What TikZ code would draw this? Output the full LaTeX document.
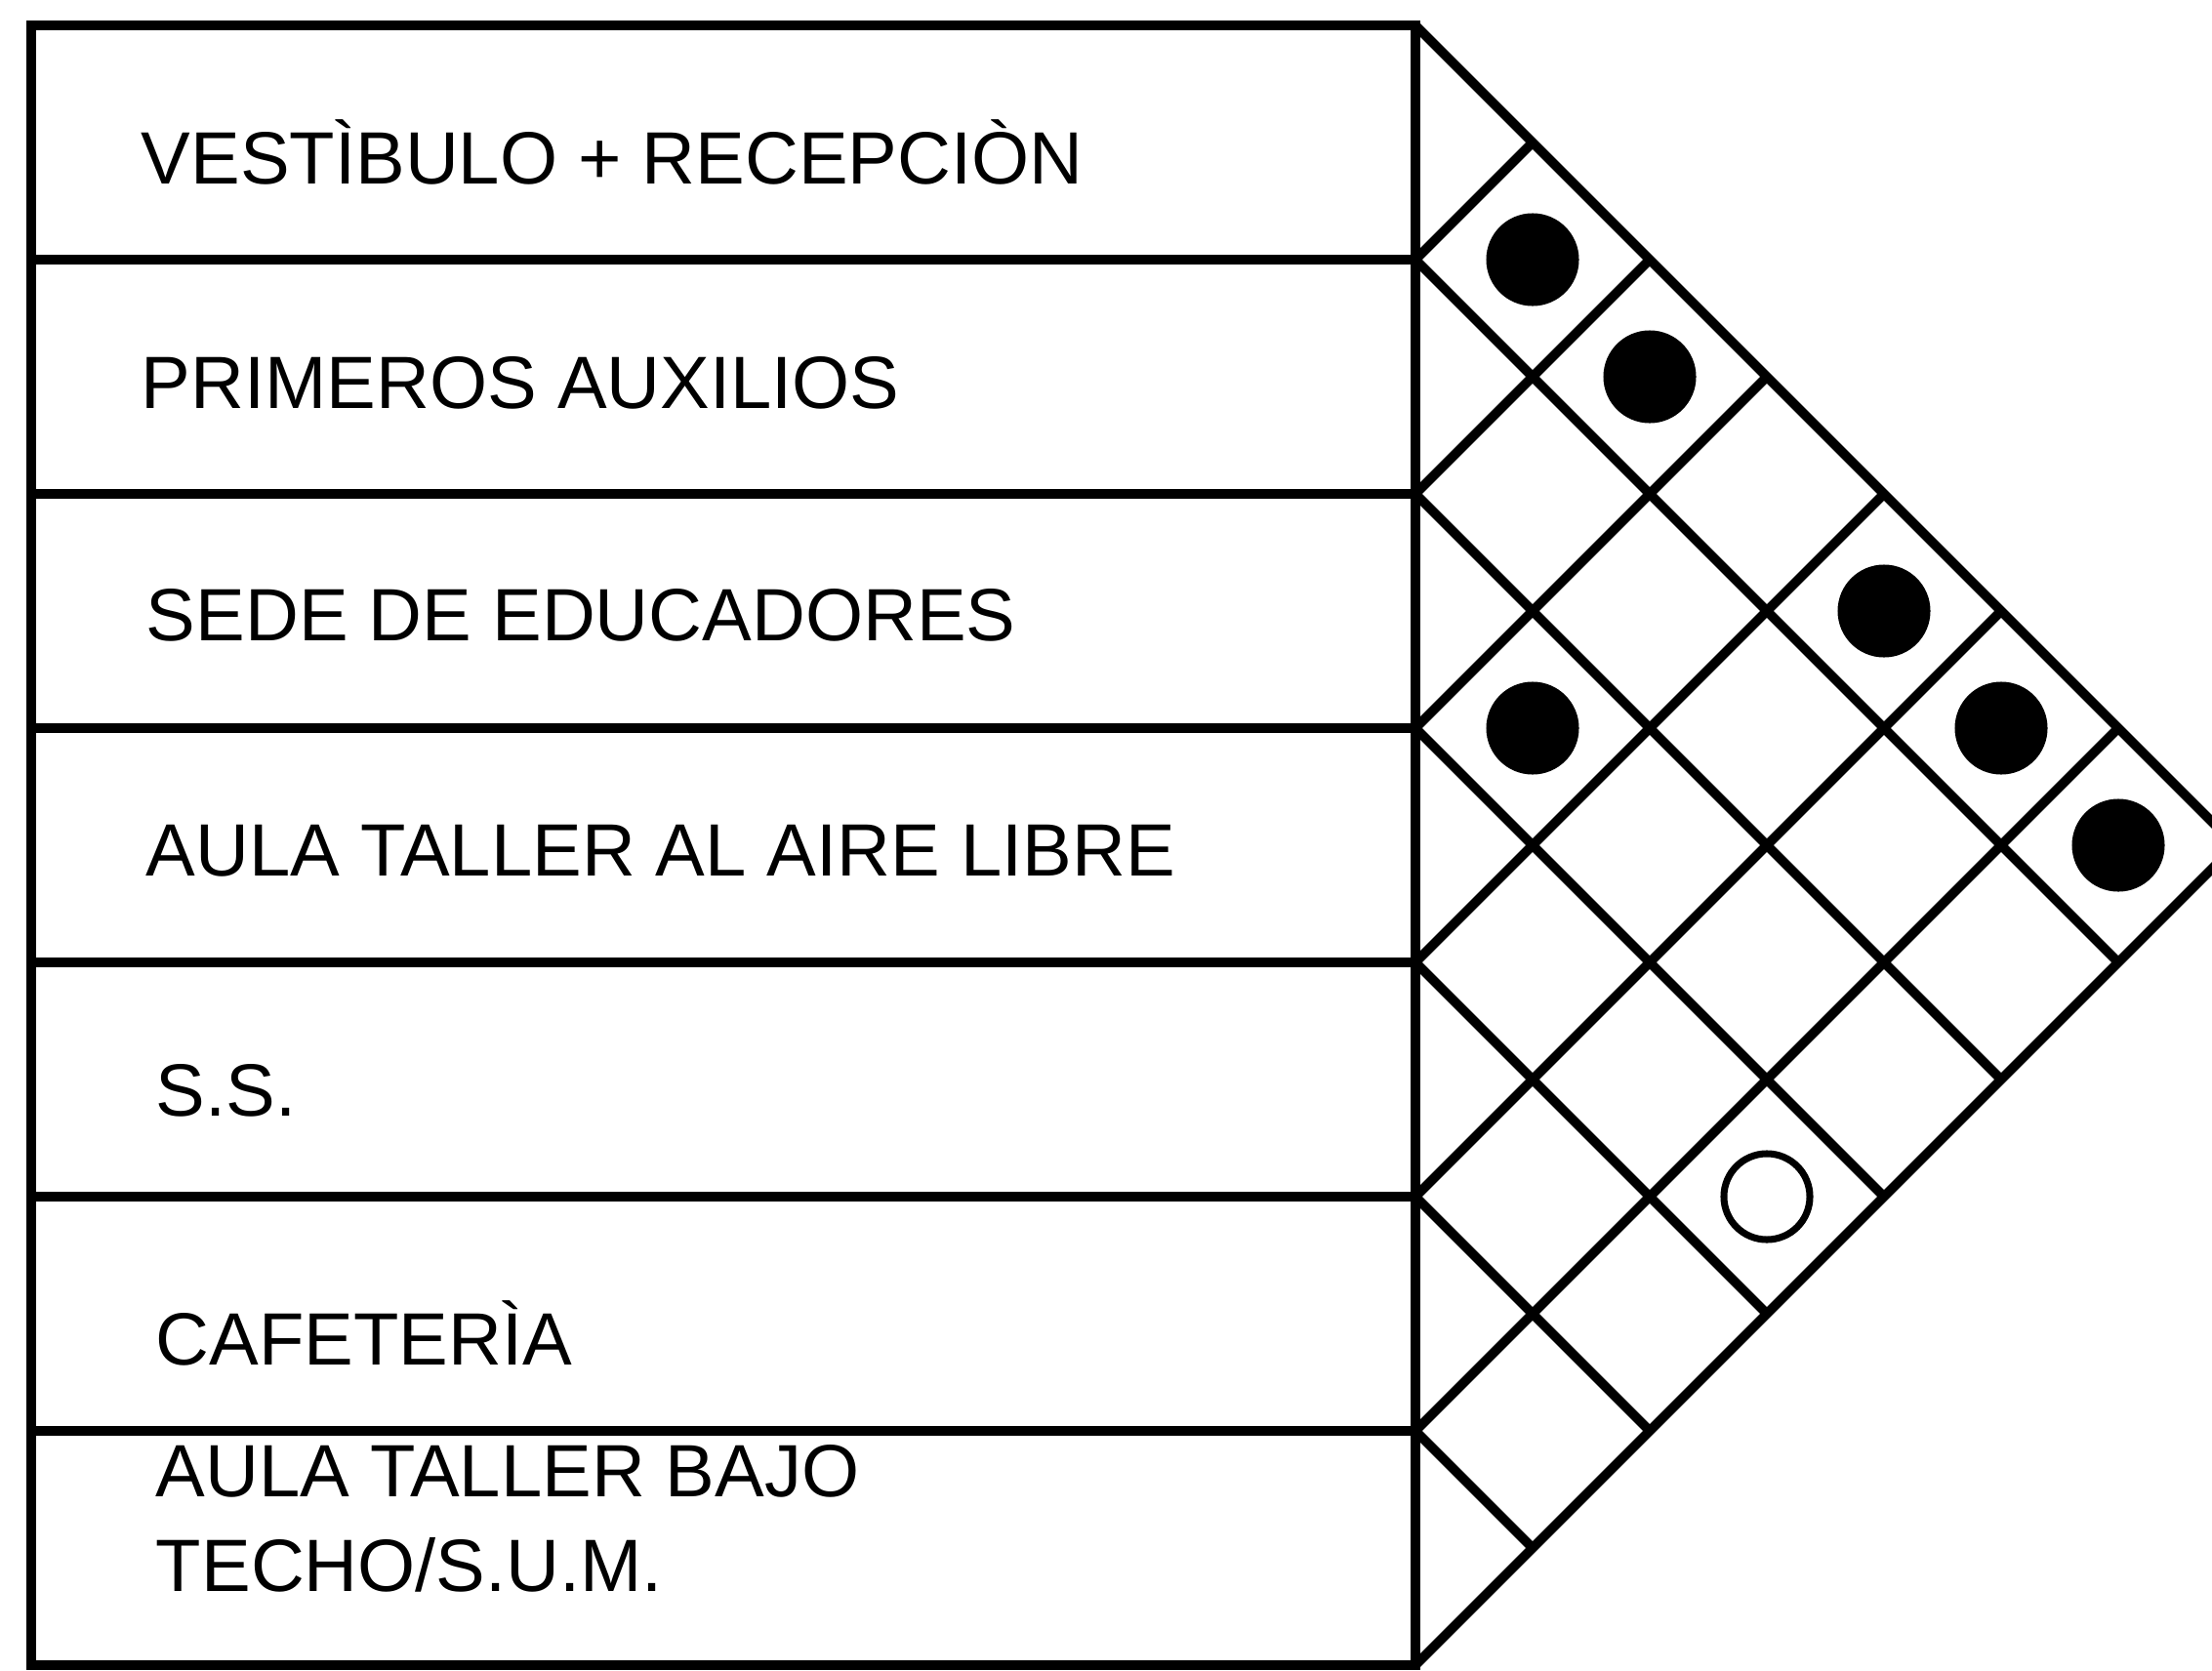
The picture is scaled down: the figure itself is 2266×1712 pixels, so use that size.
\documentclass[tikz,border=0pt]{standalone}
\usepackage{fontspec}
\setmainfont{Liberation Sans}
\begin{document}
\begin{tikzpicture}[x=0.01cm,y=-0.01cm,line width=2.8pt,
  lbl/.style={anchor=west,inner sep=0pt,font=\fontsize{21.6pt}{27pt}\selectfont},
  lbltwo/.style={anchor=west,inner sep=0pt,align=left,font=\fontsize{21.6pt}{27.4pt}\selectfont},
  fulldot/.style={circle,fill=black,inner sep=0pt,minimum size=0.95cm},
  opendot/.style={circle,draw=black,line width=2pt,inner sep=0pt,minimum size=0.88cm}]
\clip (0,0) rectangle (2266,1712);
% left table
\draw (32,26) rectangle (1450,1706);
\foreach \k in {1,...,6} {\draw (32,26+240*\k) -- (1450,26+240*\k);}
% diagonal matrix
\foreach \k in {0,...,7} {
  \draw (1450,26+240*\k) -- ++(840-120*\k,840-120*\k);
  \draw (1450,26+240*\k) -- ++(120*\k,-120*\k);
}
% labels
\node[lbl] (r1) at (140,156) {VESTÌBULO + RECEPCIÒN};
\node[lbl] (r2) at (140,392) {PRIMEROS AUXILIOS};
\node[lbl] (r3) at (145,630) {SEDE DE EDUCADORES};
\node[lbl] (r4) at (145,872) {AULA TALLER AL AIRE LIBRE};
\node[lbl] (r5) at (155,1117) {S.S.};
\node[lbl] (r6) at (155,1366) {CAFETERÌA};
\node[lbltwo] (r7) at (155,1556) {AULA TALLER BAJO\\TECHO/S.U.M.};
% relations
\node[fulldot] (d12) at (1570,266) {};
\node[fulldot] (d13) at (1690,386) {};
\node[fulldot] (d15) at (1930,626) {};
\node[fulldot] (d34) at (1570,746) {};
\node[fulldot] (d16) at (2050,746) {};
\node[fulldot] (d17) at (2170,866) {};
\node[opendot] (d47) at (1810,1226) {};
\end{tikzpicture}
\end{document}
